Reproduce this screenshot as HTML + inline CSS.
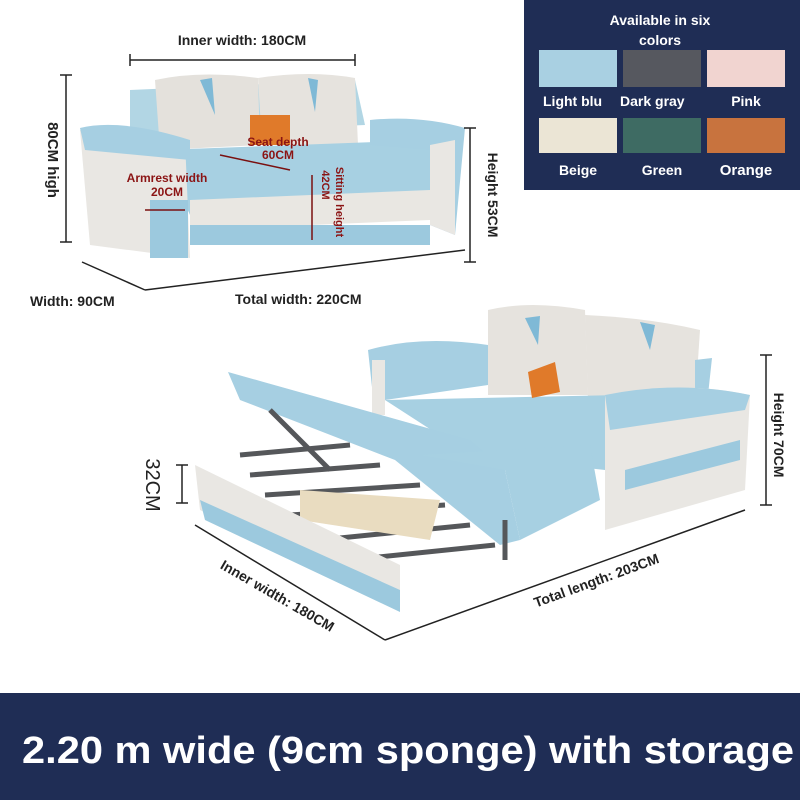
<!DOCTYPE html>
<html><head><meta charset="utf-8"><style>
html,body{margin:0;padding:0;background:#fff;width:800px;height:800px;overflow:hidden}
svg{display:block}
text{font-family:"Liberation Sans",sans-serif;font-weight:bold}
</style></head><body>
<svg width="800" height="800" viewBox="0 0 800 800">
<rect width="800" height="800" fill="#fff"/>
<!-- color panel -->
<rect x="524" y="0" width="276" height="190" fill="#1f2d55"/>
<text x="660" y="25" fill="#fff" font-size="14" text-anchor="middle">Available in six</text>
<text x="660" y="45" fill="#fff" font-size="14" text-anchor="middle">colors</text>
<rect x="539" y="50" width="78" height="37" fill="#a9d0e2"/>
<rect x="623" y="50" width="78" height="37" fill="#56585f"/>
<rect x="707" y="50" width="78" height="37" fill="#f1d4d0"/>
<text x="543" y="106" fill="#fff" font-size="14">Light blu</text>
<text x="620" y="106" fill="#fff" font-size="14">Dark gray</text>
<text x="746" y="106" fill="#fff" font-size="14" text-anchor="middle">Pink</text>
<rect x="539" y="118" width="78" height="35" fill="#ebe5d5"/>
<rect x="623" y="118" width="78" height="35" fill="#3e6b63"/>
<rect x="707" y="118" width="78" height="35" fill="#c8733e"/>
<text x="578" y="175" fill="#fff" font-size="14" text-anchor="middle">Beige</text>
<text x="662" y="175" fill="#fff" font-size="14" text-anchor="middle">Green</text>
<text x="746" y="175" fill="#fff" font-size="15" text-anchor="middle">Orange</text>
<!-- bottom band -->
<rect x="0" y="693" width="800" height="107" fill="#1f2d55"/>
<text x="22" y="763" fill="#fff" font-size="38" textLength="772" lengthAdjust="spacingAndGlyphs">2.20 m wide (9cm sponge) with storage</text>

<!-- sofa 1 -->
<g>
<path d="M130 90 L355 80 L365 125 L130 135Z" fill="#b2d6e4"/>
<path d="M155 80 Q200 70 258 78 L260 145 L160 150Z" fill="#e4e1dc"/>
<path d="M258 78 Q310 70 355 78 L358 145 L262 145Z" fill="#e6e3de"/>
<path d="M200 80 L212 78 L215 115Z M308 78 L318 80 L315 112Z" fill="#7fb9d6"/>
<rect x="250" y="115" width="40" height="30" fill="#e07a2a"/>
<path d="M160 150 L430 140 L430 200 L190 215Z" fill="#a7d0e2"/>
<path d="M190 200 L430 190 L430 220 L190 230Z" fill="#e9e7e2"/>
<path d="M80 130 Q120 120 185 140 L190 258 L90 245Z" fill="#e9e7e3"/>
<path d="M80 128 Q120 118 190 140 L190 160 L85 150Z" fill="#a6cfe2"/>
<rect x="150" y="200" width="38" height="58" fill="#9cc9de"/>
<path d="M370 120 Q420 115 465 128 L455 235 L430 225 L430 150 L370 145Z" fill="#a6cfe2"/>
<path d="M430 145 L455 140 L455 235 L430 225Z" fill="#e9e7e3"/>
<rect x="190" y="225" width="240" height="20" fill="#9cc9de"/>
</g>
<!-- dims sofa 1 -->
<g stroke="#222" stroke-width="1.5" fill="none">
<line x1="130" y1="60" x2="355" y2="60"/><line x1="130" y1="54" x2="130" y2="66"/><line x1="355" y1="54" x2="355" y2="66"/>
<line x1="66" y1="75" x2="66" y2="242"/><line x1="60" y1="75" x2="72" y2="75"/><line x1="60" y1="242" x2="72" y2="242"/>
<line x1="470" y1="128" x2="470" y2="262"/><line x1="464" y1="128" x2="476" y2="128"/><line x1="464" y1="262" x2="476" y2="262"/>
<line x1="82" y1="262" x2="145" y2="290"/><line x1="145" y1="290" x2="465" y2="250"/>
</g>
<g stroke="#7a1010" stroke-width="1.5"><line x1="220" y1="155" x2="290" y2="170"/><line x1="145" y1="210" x2="185" y2="210"/><line x1="312" y1="175" x2="312" y2="240"/></g>
<text x="242" y="45" font-size="14" fill="#222" text-anchor="middle">Inner width: 180CM</text>
<text transform="translate(48 160) rotate(90)" font-size="15" fill="#222" text-anchor="middle">80CM high</text>
<text transform="translate(488 195) rotate(90)" font-size="14" fill="#222" text-anchor="middle">Height 53CM</text>
<text x="30" y="306" font-size="14" fill="#222">Width: 90CM</text>
<text x="235" y="304" font-size="14" fill="#222">Total width: 220CM</text>
<text x="278" y="146" font-size="12" fill="#8b1414" text-anchor="middle">Seat depth</text>
<text x="278" y="159" font-size="12" fill="#8b1414" text-anchor="middle">60CM</text>
<text x="167" y="182" font-size="12" fill="#8b1414" text-anchor="middle">Armrest width</text>
<text x="167" y="196" font-size="12" fill="#8b1414" text-anchor="middle">20CM</text>
<text transform="translate(336 202) rotate(90)" font-size="11" fill="#8b1414" text-anchor="middle">Sitting height</text>
<text transform="translate(322 185) rotate(90)" font-size="11" fill="#8b1414" text-anchor="middle">42CM</text>

<!-- sofa 2 -->
<g>
<path d="M488 310 Q530 300 585 310 L588 395 L488 395Z" fill="#e6e3de"/>
<path d="M585 315 Q650 318 700 330 L695 405 L588 400Z" fill="#e6e3de"/>
<path d="M525 318 L540 316 L538 345Z M640 322 L655 325 L650 350Z" fill="#7fb9d6"/>
<path d="M368 350 Q420 335 488 345 L488 385 L385 400 L375 415Z" fill="#a6cfe2"/>
<path d="M372 360 L385 360 L385 415 L372 415Z" fill="#e9e7e3"/>
<path d="M695 360 L712 358 L708 395 L695 398Z" fill="#a6cfe2"/>
<path d="M385 400 L620 395 L605 470 L470 455Z" fill="#a7d0e2"/>
<path d="M528 372 L555 362 L560 392 L532 398Z" fill="#e07a2a"/>
<path d="M228 372 L470 440 L505 470 L520 540 L500 545 L395 460 L240 400Z" fill="#a6cfe2"/>
<path d="M420 455 L590 445 L600 500 L520 540 L505 470Z" fill="#a7d0e2"/>
<g stroke="#55575a" stroke-width="5">
<line x1="240" y1="455" x2="350" y2="445"/><line x1="250" y1="475" x2="380" y2="465"/>
<line x1="265" y1="495" x2="420" y2="485"/><line x1="290" y1="515" x2="445" y2="505"/>
<line x1="320" y1="540" x2="470" y2="525"/><line x1="350" y1="560" x2="495" y2="545"/>
<line x1="270" y1="410" x2="330" y2="470"/><line x1="505" y1="520" x2="505" y2="560"/>
</g>
<path d="M300 490 L440 500 L430 540 L300 520Z" fill="#e9dcc0"/>
<path d="M195 465 L400 565 L400 610 L200 510Z" fill="#e9e7e3"/>
<path d="M200 500 L400 590 L400 612 L205 520Z" fill="#9cc9de"/>
<path d="M605 395 Q680 380 750 395 L745 490 L605 530Z" fill="#e9e7e3"/>
<path d="M605 395 Q680 380 750 395 L745 410 L610 430Z" fill="#a6cfe2"/>
<path d="M625 470 L740 440 L740 460 L625 490Z" fill="#9cc9de"/>
</g>
<g stroke="#222" stroke-width="1.5" fill="none">
<line x1="182" y1="465" x2="182" y2="503"/><line x1="176" y1="465" x2="188" y2="465"/><line x1="176" y1="503" x2="188" y2="503"/>
<line x1="766" y1="355" x2="766" y2="505"/><line x1="760" y1="355" x2="772" y2="355"/><line x1="760" y1="505" x2="772" y2="505"/>
<line x1="195" y1="525" x2="385" y2="640"/><line x1="385" y1="640" x2="745" y2="510"/>
</g>
<text transform="translate(146 485) rotate(90)" font-size="20" fill="#222" text-anchor="middle" style="font-weight:normal">32CM</text>
<text transform="translate(774 435) rotate(90)" font-size="14" fill="#222" text-anchor="middle">Height 70CM</text>
<text transform="translate(275 600) rotate(30)" font-size="14" fill="#222" text-anchor="middle">Inner width: 180CM</text>
<text transform="translate(598 585) rotate(-20)" font-size="14" fill="#222" text-anchor="middle">Total length: 203CM</text>
</svg>
</body></html>
